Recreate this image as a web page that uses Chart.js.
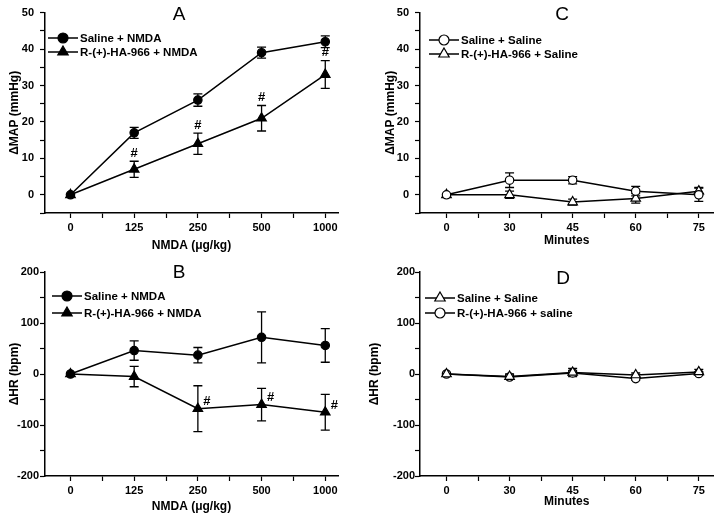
<!DOCTYPE html>
<html><head><meta charset="utf-8">
<script src="https://cdn.jsdelivr.net/npm/chart.js@4.4.1/dist/chart.umd.min.js"></script>
<style>
html,body{margin:0;padding:0;background:#fff;}
#wrap{position:relative;width:720px;height:518px;overflow:hidden;}
canvas{position:absolute;}
</style></head><body>
<div id="wrap">
<canvas id="cA" width="360" height="258" style="left:0;top:0"></canvas>
<canvas id="cB" width="360" height="260" style="left:0;top:258px"></canvas>
<canvas id="cC" width="360" height="258" style="left:360px;top:0"></canvas>
<canvas id="cD" width="360" height="260" style="left:360px;top:258px"></canvas>
</div>
<script>
// ---- data ----
const doseLabels = ['0','125','250','500','1000'];
const minuteLabels = ['0','30','45','60','75'];

const mapSalineNmda    = [0, 17, 26, 39, 42];
const mapSalineNmdaErr = [0, 1.5, 1.7, 1.5, 1.6];
const mapHaNmda        = [0, 7, 14, 21, 33];
const mapHaNmdaErr     = [0, 2.2, 2.9, 3.5, 3.8];
const mapHaNmdaSig     = [0, 1, 1, 1, 1];

const hrSalineNmda     = [0, 46, 37, 72, 56];
const hrSalineNmdaErr  = [0, 19, 15, 50, 33];
const hrHaNmda         = [0, -5, -68, -60, -75];
const hrHaNmdaErr      = [0, 20, 45, 32, 35];
const hrHaNmdaSig      = [0, 0, 1, 1, 1];

const mapSalineSaline    = [0, 4, 4, 1, 0];
const mapSalineSalineErr = [0, 2, 1, 1.3, 1.8];
const mapHaSaline        = [0, 0, -2, -1, 1];
const mapHaSalineErr     = [0, 1, 0.8, 1.3, 1];

const hrSalineSaline     = [0, -5, 3, -2, 4];
const hrSalineSalineErr  = [0, 5, 8, 4, 5];
const hrHaSaline         = [0, -6, 2, -9, 1];
const hrHaSalineErr      = [0, 4, 5, 3, 3];

// ---- drawing helpers ----
const FONT = "'Liberation Sans', Arial, Helvetica, sans-serif";

function drawMarker(ctx, shape, filled, x, y, r) {
  ctx.beginPath();
  if (shape === 'triangle') {
    let a = 0;
    ctx.moveTo(x + Math.sin(a) * r, y - Math.cos(a) * r);
    a += 2 * Math.PI / 3;
    ctx.lineTo(x + Math.sin(a) * r, y - Math.cos(a) * r);
    a += 2 * Math.PI / 3;
    ctx.lineTo(x + Math.sin(a) * r, y - Math.cos(a) * r);
    ctx.closePath();
  } else {
    ctx.arc(x, y, r, 0, Math.PI * 2);
  }
  ctx.fillStyle = filled ? '#000' : '#fff';
  ctx.fill();
  ctx.lineWidth = 1.2;
  ctx.strokeStyle = '#000';
  ctx.stroke();
}

const extrasPlugin = {
  id: 'extras',
  beforeDatasetsDraw(chart, args, o) {
    const ctx = chart.ctx, xs = chart.scales.x, ys = chart.scales.y;
    ctx.save();
    ctx.strokeStyle = '#000';
    ctx.lineWidth = 1.3;
    chart.data.datasets.forEach((ds, di) => {
      const err = o.errors[di];
      ds.data.forEach((p, i) => {
        const e = err[i];
        if (!e) return;
        const x = xs.getPixelForValue(p.x);
        const y1 = ys.getPixelForValue(p.y - e);
        const y2 = ys.getPixelForValue(p.y + e);
        ctx.beginPath();
        ctx.moveTo(x, y1); ctx.lineTo(x, y2);
        ctx.moveTo(x - 4.5, y1); ctx.lineTo(x + 4.5, y1);
        ctx.moveTo(x - 4.5, y2); ctx.lineTo(x + 4.5, y2);
        ctx.stroke();
      });
    });
    ctx.restore();
  },
  afterDraw(chart, args, o) {
    const ctx = chart.ctx, xs = chart.scales.x, ys = chart.scales.y;
    ctx.save();
    // significance marks
    if (o.sig) {
      const ds = chart.data.datasets[o.sig.dataset];
      const err = o.errors[o.sig.dataset];
      ctx.font = 'bold 13px ' + FONT;
      ctx.fillStyle = '#000';
      ctx.textAlign = 'center';
      ctx.textBaseline = 'middle';
      o.sig.flags.forEach((f, i) => {
        if (!f) return;
        const p = ds.data[i];
        const x = xs.getPixelForValue(p.x);
        if (o.sig.mode === 'above') {
          const y = ys.getPixelForValue(p.y + err[i]);
          ctx.fillText('#', x, y - 8);
        } else {
          const y = ys.getPixelForValue(p.y);
          ctx.fillText('#', x + 9, y - 7);
        }
      });
    }
    // legend
    const lg = o.legend;
    ctx.font = 'bold 11.5px ' + FONT;
    ctx.textAlign = 'left';
    ctx.textBaseline = 'middle';
    lg.items.forEach((it, k) => {
      const y = lg.y[k];
      ctx.beginPath();
      ctx.moveTo(lg.x, y); ctx.lineTo(lg.x + 30, y);
      ctx.lineWidth = 1.5; ctx.strokeStyle = '#000'; ctx.stroke();
      drawMarker(ctx, it.shape, it.filled, lg.x + 15, y, it.shape === 'triangle' ? 6 : 5);
      ctx.fillStyle = '#000';
      ctx.fillText(it.label, lg.x + 32, y + 0.5);
    });
    // panel letter
    ctx.font = '19px ' + FONT;
    ctx.textAlign = 'center';
    ctx.fillText(o.letter.text, o.letter.x, o.letter.y);
    ctx.restore();
  }
};

function panel(id, cfg) {
  const datasets = cfg.series.map(s => ({
    data: s.values.map((v, i) => ({ x: i, y: v })),
    borderColor: '#000',
    borderWidth: 1.5,
    pointStyle: s.shape,
    pointRadius: s.shape === 'triangle' ? 5.5 : 4.2,
    pointBackgroundColor: s.filled ? '#000' : '#fff',
    pointBorderColor: '#000',
    pointBorderWidth: 1.2,
    tension: 0,
    fill: false
  }));
  const yTicks = [];
  for (let v = cfg.yMin; v <= cfg.yMax + 1e-9; v += cfg.yMinor) yTicks.push(v);
  const xTicks = [];
  for (let v = 0; v <= cfg.xLabels.length - 1 + 1e-9; v += 0.5) xTicks.push(v);
  new Chart(document.getElementById(id), {
    type: 'line',
    data: { datasets },
    options: {
      responsive: false,
      animation: false,
      events: [],
      layout: { padding: cfg.pad },
      plugins: {
        legend: { display: false },
        tooltip: { enabled: false },
        extras: {
          errors: cfg.series.map(s => s.err),
          sig: cfg.sig,
          legend: cfg.legend,
          letter: cfg.letter
        }
      },
      scales: {
        x: {
          type: 'linear',
          min: cfg.xMin, max: cfg.xMax,
          afterBuildTicks: s => { s.ticks = xTicks.map(v => ({ value: v })); },
          afterFit: s => { s.height = cfg.xH; },
          ticks: {
            autoSkip: false, maxRotation: 0, padding: 3,
            color: '#000', font: { family: FONT, size: 11, weight: 'bold' },
            callback: v => (Math.abs(v - Math.round(v)) < 1e-6 ? cfg.xLabels[Math.round(v)] : '')
          },
          grid: { display: true, drawOnChartArea: false, drawTicks: true, tickLength: 5, tickColor: '#000', tickWidth: 1.2 },
          border: { display: true, color: '#000', width: 1.5 },
          title: { display: true, text: cfg.xTitle, color: '#000', font: { family: FONT, size: 12, weight: 'bold' }, padding: { top: 0, bottom: cfg.xTitlePad } }
        },
        y: {
          type: 'linear',
          min: cfg.yMin, max: cfg.yMax,
          afterBuildTicks: s => { s.ticks = yTicks.map(v => ({ value: v })); },
          afterFit: s => { s.width = cfg.yW; },
          ticks: {
            autoSkip: false, padding: cfg.yTickPad,
            color: '#000', font: { family: FONT, size: 11, weight: 'bold' },
            callback: v => (Math.round(v) % cfg.yMajor === 0) ? String(v) : ''
          },
          grid: { display: true, drawOnChartArea: false, drawTicks: true, tickLength: 5, tickColor: '#000', tickWidth: 1.2 },
          border: { display: true, color: '#000', width: 1.5 },
          title: { display: true, text: cfg.yTitle, color: '#000', font: { family: FONT, size: 12, weight: 'bold' }, padding: { top: cfg.yTitlePad, bottom: 0 } }
        }
      }
    },
    plugins: [extrasPlugin]
  });
}

panel('cA', {
  series: [
    { values: mapSalineNmda, err: mapSalineNmdaErr, shape: 'circle', filled: true },
    { values: mapHaNmda, err: mapHaNmdaErr, shape: 'triangle', filled: true }
  ],
  sig: { dataset: 1, flags: mapHaNmdaSig, mode: 'above' },
  legend: { x: 48, y: [38, 52], items: [
    { label: 'Saline + NMDA', shape: 'circle', filled: true },
    { label: 'R-(+)-HA-966 + NMDA', shape: 'triangle', filled: true }
  ] },
  letter: { text: 'A', x: 179, y: 15 },
  xLabels: doseLabels, xMin: -0.4, xMax: 4.2, xH: 45, xTitle: 'NMDA (\u03BCg/kg)', xTitlePad: 5,
  yMin: -5, yMax: 50, yMinor: 5, yMajor: 10, yW: 45, yTickPad: 6, yTitle: '\u0394MAP (mmHg)', yTitlePad: 7,
  pad: { left: 0, top: 10, right: 22, bottom: 0 }
});

panel('cB', {
  series: [
    { values: hrSalineNmda, err: hrSalineNmdaErr, shape: 'circle', filled: true },
    { values: hrHaNmda, err: hrHaNmdaErr, shape: 'triangle', filled: true }
  ],
  sig: { dataset: 1, flags: hrHaNmdaSig, mode: 'right' },
  legend: { x: 52, y: [38, 55], items: [
    { label: 'Saline + NMDA', shape: 'circle', filled: true },
    { label: 'R-(+)-HA-966 + NMDA', shape: 'triangle', filled: true }
  ] },
  letter: { text: 'B', x: 179, y: 15 },
  xLabels: doseLabels, xMin: -0.4, xMax: 4.2, xH: 42, xTitle: 'NMDA (\u03BCg/kg)', xTitlePad: 4,
  yMin: -200, yMax: 200, yMinor: 50, yMajor: 100, yW: 45, yTickPad: 1, yTitle: '\u0394HR (bpm)', yTitlePad: 7,
  pad: { left: 0, top: 14, right: 22, bottom: 0 }
});

panel('cC', {
  series: [
    { values: mapSalineSaline, err: mapSalineSalineErr, shape: 'circle', filled: false },
    { values: mapHaSaline, err: mapHaSalineErr, shape: 'triangle', filled: false }
  ],
  sig: null,
  legend: { x: 69, y: [40, 54], items: [
    { label: 'Saline + Saline', shape: 'circle', filled: false },
    { label: 'R-(+)-HA-966 + Saline', shape: 'triangle', filled: false }
  ] },
  letter: { text: 'C', x: 202, y: 15 },
  xLabels: minuteLabels, xMin: -0.42, xMax: 4.23, xH: 45, xTitle: 'Minutes', xTitlePad: 10,
  yMin: -5, yMax: 50, yMinor: 5, yMajor: 10, yW: 60, yTickPad: 6, yTitle: '\u0394MAP (mmHg)', yTitlePad: 23,
  pad: { left: 0, top: 10, right: 3, bottom: 0 }
});

panel('cD', {
  series: [
    { values: hrSalineSaline, err: hrSalineSalineErr, shape: 'triangle', filled: false },
    { values: hrHaSaline, err: hrHaSalineErr, shape: 'circle', filled: false }
  ],
  sig: null,
  legend: { x: 65, y: [40, 55], items: [
    { label: 'Saline + Saline', shape: 'triangle', filled: false },
    { label: 'R-(+)-HA-966 + saline', shape: 'circle', filled: false }
  ] },
  letter: { text: 'D', x: 203, y: 21 },
  xLabels: minuteLabels, xMin: -0.42, xMax: 4.23, xH: 42, xTitle: 'Minutes', xTitlePad: 9,
  yMin: -200, yMax: 200, yMinor: 50, yMajor: 100, yW: 60, yTickPad: 0, yTitle: '\u0394HR (bpm)', yTitlePad: 7,
  pad: { left: 0, top: 14, right: 3, bottom: 0 }
});
</script>
</body></html>
